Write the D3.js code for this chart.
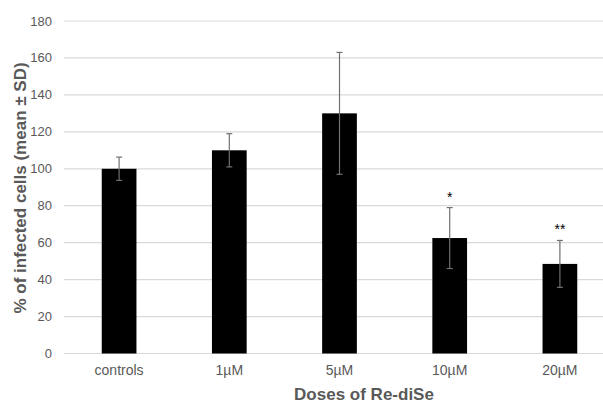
<!DOCTYPE html>
<html>
<head>
<meta charset="utf-8">
<script src="https://cdn.jsdelivr.net/npm/d3@7"></script>
<style>
  body { margin: 0; background: #fff; }
  text { font-family: "Liberation Sans", Arial, sans-serif; }
</style>
</head>
<body>
<div id="chart"></div>
<script>
// values
const doses = ["controls", "1µM", "5µM", "10µM", "20µM"];
const means = [100, 110, 130, 62.5, 48.5];
const sds = [6.3, 9, 33, 16.5, 12.7];
const marks = ["", "", "", "*", "**"];
const yTicks = [0, 20, 40, 60, 80, 100, 120, 140, 160, 180];

const data = doses.map((d, i) => ({dose: d, mean: means[i], sd: sds[i], mark: marks[i]}));

const width = 603, height = 403;
const margin = {top: 21, right: -12, bottom: 49.5, left: 64};

const svg = d3.select("#chart").append("svg")
  .attr("width", width).attr("height", height);

const x = d3.scaleBand().domain(doses)
  .range([margin.left, width - margin.right]).padding(0);
const y = d3.scaleLinear().domain([0, 180])
  .range([height - margin.bottom, margin.top]);
const barW = x.bandwidth() * 0.315;

// gridlines
svg.append("g").selectAll("line").data(yTicks).enter().append("line")
  .attr("x1", margin.left).attr("x2", width - margin.right)
  .attr("y1", d => y(d)).attr("y2", d => y(d))
  .attr("stroke", "#d9d9d9").attr("stroke-width", 1.2);

// y tick labels
svg.append("g").selectAll("text").data(yTicks).enter().append("text")
  .attr("x", 52).attr("y", d => y(d) + 4.5)
  .attr("text-anchor", "end").attr("fill", "#595959")
  .attr("font-size", "13px").text(d => d);

// bars
svg.append("g").selectAll("rect").data(data).enter().append("rect")
  .attr("x", d => x(d.dose) + x.bandwidth() / 2 - barW / 2)
  .attr("y", d => y(d.mean))
  .attr("width", barW)
  .attr("height", d => y(0) - y(d.mean))
  .attr("fill", "#000");

// error bars
const err = svg.append("g").attr("stroke", "#707070").attr("stroke-width", 1.2);
data.forEach(d => {
  const cx = x(d.dose) + x.bandwidth() / 2;
  err.append("line").attr("x1", cx).attr("x2", cx)
    .attr("y1", y(d.mean + d.sd)).attr("y2", y(d.mean - d.sd));
  [d.mean + d.sd, d.mean - d.sd].forEach(v => {
    err.append("line").attr("x1", cx - 3).attr("x2", cx + 3)
      .attr("y1", y(v)).attr("y2", y(v));
  });
});

// significance marks
svg.append("g").selectAll("text").data(data.filter(d => d.mark)).enter().append("text")
  .attr("x", d => x(d.dose) + x.bandwidth() / 2)
  .attr("y", d => y(d.mean + d.sd) - 6)
  .attr("text-anchor", "middle").attr("fill", "#000")
  .attr("font-size", "14px").text(d => d.mark);

// x tick labels
svg.append("g").selectAll("text").data(doses).enter().append("text")
  .attr("x", d => x(d) + x.bandwidth() / 2).attr("y", 374.5)
  .attr("text-anchor", "middle").attr("fill", "#595959")
  .attr("font-size", "14px").text(d => d);

// axis titles
svg.append("text")
  .attr("x", 364).attr("y", 400)
  .attr("text-anchor", "middle").attr("fill", "#595959")
  .attr("font-size", "17px").attr("font-weight", "bold")
  .text("Doses of Re-diSe");

svg.append("text")
  .attr("transform", "translate(26,188) rotate(-90)")
  .attr("text-anchor", "middle").attr("fill", "#595959")
  .attr("font-size", "17px").attr("font-weight", "bold")
  .text("% of infected cells (mean ± SD)");
</script>
</body>
</html>
